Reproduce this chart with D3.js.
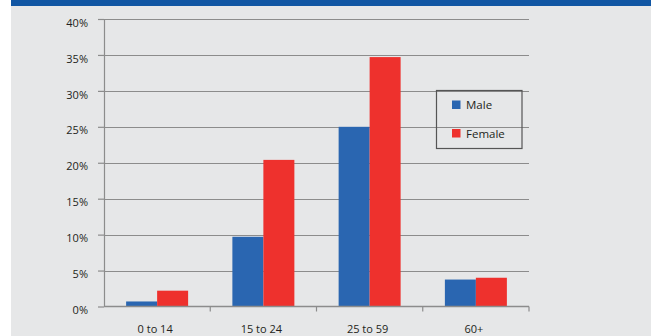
<!DOCTYPE html>
<html>
<head>
<meta charset="utf-8">
<script src="https://cdn.jsdelivr.net/npm/d3@7"></script>
<style>
  html, body { margin: 0; padding: 0; background: #ffffff; }
  svg { display: block; }
  text { font-family: "Open Sans", "DejaVu Sans", sans-serif; fill: #231f20; }
</style>
</head>
<body>
<svg id="chart" width="655" height="336"></svg>
<script>
// Age-group shares by sex
const categories = ["0 to 14", "15 to 24", "25 to 59", "60+"];
const seriesNames = ["Male", "Female"];
const maleValues = [0.7, 9.7, 25.0, 3.75];
const femaleValues = [2.2, 20.4, 34.7, 4.0];
const yTicks = [0, 5, 10, 15, 20, 25, 30, 35, 40];

const colors = { Male: "#2a66b1", Female: "#ee312d" };
const gridColor = "#8c8c8c";

const svg = d3.select("#chart");

// panel background and top band
svg.append("rect").attr("x", 11).attr("y", 0).attr("width", 640).attr("height", 336).attr("fill", "#e6e7e8");
svg.append("rect").attr("x", 11).attr("y", 0).attr("width", 640).attr("height", 6).attr("fill", "#1156a3");

const plot = { left: 104, right: 529, top: 19, bottom: 306.5 };

const x = d3.scaleBand().domain(categories).range([plot.left, plot.right]).paddingInner(0).paddingOuter(0);
const xs = d3.scaleBand().domain(seriesNames).range([0, x.bandwidth()]).paddingInner(0).paddingOuter(0.714);
const y = d3.scaleLinear().domain([0, 40]).range([plot.bottom, plot.top]);

// horizontal gridlines
svg.append("g").selectAll("line").data(yTicks.filter(d => d > 0)).join("line")
  .attr("x1", plot.left).attr("x2", plot.right)
  .attr("y1", d => Math.round(y(d)) + 0.5).attr("y2", d => Math.round(y(d)) + 0.5)
  .attr("stroke", gridColor).attr("stroke-width", 1.2);

// bars
const rows = categories.map((c, i) => ({ cat: c, Male: maleValues[i], Female: femaleValues[i] }));
const groups = svg.append("g").selectAll("g").data(rows).join("g")
  .attr("transform", d => `translate(${x(d.cat)},0)`);
groups.selectAll("rect").data(d => seriesNames.map(s => ({ s, v: d[s] }))).join("rect")
  .attr("x", d => xs(d.s)).attr("width", xs.bandwidth())
  .attr("y", d => y(d.v)).attr("height", d => y(0) - y(d.v))
  .attr("fill", d => colors[d.s]);

// y axis
const yAxis = svg.append("g").attr("transform", `translate(${plot.left},0)`)
  .call(d3.axisLeft(y).tickValues(yTicks).tickFormat(d => d + "%").tickSizeInner(6).tickSizeOuter(0).tickPadding(10));
yAxis.select(".domain").attr("stroke", gridColor).attr("stroke-width", 1.2);
yAxis.selectAll(".tick line").attr("stroke", gridColor).attr("stroke-width", 1.2);
yAxis.selectAll(".tick text").attr("font-size", 11).attr("dy", "0.65em")
  .style("font-family", "'Open Sans', sans-serif").attr("fill", "#231f20");

// x axis: baseline with boundary ticks
const bounds = categories.map(c => x(c)).concat([plot.right]);
svg.append("line").attr("x1", plot.left).attr("x2", plot.right)
  .attr("y1", y(0)).attr("y2", y(0)).attr("stroke", gridColor).attr("stroke-width", 1.4);
svg.append("g").selectAll("line").data(bounds.slice(1)).join("line")
  .attr("x1", d => d).attr("x2", d => d).attr("y1", y(0)).attr("y2", y(0) + 5)
  .attr("stroke", gridColor).attr("stroke-width", 1.2);
svg.append("g").selectAll("text").data(categories).join("text")
  .attr("x", d => x(d) + x.bandwidth() / 2 - 2).attr("y", 333)
  .attr("text-anchor", "middle").attr("font-size", 11).text(d => d);

// legend
const legend = svg.append("g");
legend.append("rect").attr("x", 436.5).attr("y", 90.5).attr("width", 85.5).attr("height", 58)
  .attr("fill", "none").attr("stroke", "#555555").attr("stroke-width", 1.2);
const li = legend.selectAll("g").data(seriesNames).join("g")
  .attr("transform", (d, i) => `translate(452,${100.5 + i * 28.5})`);
li.append("rect").attr("width", 8.5).attr("height", 8.5).attr("fill", d => colors[d]);
li.append("text").attr("x", 14).attr("y", 8.5).attr("font-size", 11.5).text(d => d);
</script>
</body>
</html>
